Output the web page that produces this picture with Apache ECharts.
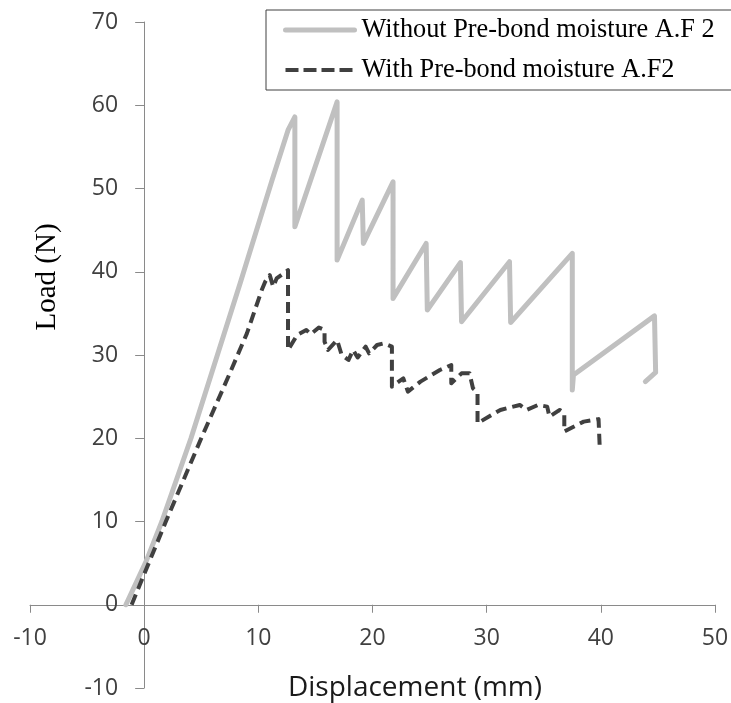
<!DOCTYPE html>
<html>
<head>
<meta charset="utf-8">
<script src="https://cdn.jsdelivr.net/npm/echarts@6/dist/echarts.min.js"></script>
<style>
html,body{margin:0;padding:0;background:#fff;}
#chart{width:731px;height:703px;}
</style>
</head>
<body>
<div id="chart"></div>
<script>
// Series names
var seriesNames = ["Without Pre-bond moisture A.F 2", "With Pre-bond moisture A.F2"];

// Without pre-bond moisture: displacement (mm) and load (N)
var dryDisp = [-1.6, 0.2, 1.55, 4.1, 8.4, 11.2, 12.6, 13.2, 13.2, 16.9, 16.9, 19.1, 19.2, 21.8, 21.8, 24.7, 24.8, 27.7, 27.8, 32.0, 32.1, 37.5, 37.5, 37.6, 44.7, 44.8, 43.9];
var dryLoad = [0, 5.3, 10, 20, 38.6, 51, 57, 58.6, 45.4, 60.4, 41.4, 48.6, 43.4, 50.8, 36.8, 43.4, 35.4, 41.1, 34.0, 41.2, 33.9, 42.2, 25.8, 27.6, 34.7, 27.9, 26.8];

// With pre-bond moisture
var wetDisp = [-1.1, 1.9, 5.0, 7.5, 9.0, 10.3, 10.6, 11.0, 11.3, 11.6, 12.6, 12.6, 13.4, 14.2, 14.6, 15.3, 15.8, 15.8, 16.1, 16.9, 17.3, 17.9, 18.3, 18.7, 19.4, 19.7, 20.4, 21.0, 21.7, 21.7, 22.7, 23.1, 24.2, 25.9, 26.9, 26.9, 27.8, 28.5, 28.8, 29.2, 29.2, 31.2, 32.9, 33.5, 34.5, 35.3, 35.5, 36.4, 36.8, 36.8, 38.5, 39.8, 39.9];
var wetLoad = [0, 10, 20, 27.8, 32.6, 37.8, 38.8, 39.6, 38.2, 39.2, 40.2, 30.6, 32.4, 33.0, 32.5, 33.3, 33.0, 31.6, 30.6, 31.8, 30.0, 29.4, 30.6, 29.7, 31.0, 30.2, 31.2, 31.4, 31.0, 26.2, 27.2, 25.6, 26.8, 28.2, 28.8, 26.6, 27.8, 27.8, 26.0, 25.5, 21.8, 23.4, 24.0, 23.4, 24.0, 23.8, 22.6, 23.4, 23.0, 20.8, 22.0, 22.3, 19.0];

// Axis ticks
var xTicks = [-10, 0, 10, 20, 30, 40, 50];
var yTicks = [-10, 0, 10, 20, 30, 40, 50, 60, 70];
var xTitle = "Displacement (mm)";
var yTitle = "Load (N)";

function zip(a, b) { return a.map(function (v, i) { return [v, b[i]]; }); }

var W = 731, H = 703;
var gLeft = 30, gRight = 16, gTop = 22, gBottom = 15;
var xMin = xTicks[0], xMax = xTicks[xTicks.length - 1];
var yMin = yTicks[0], yMax = yTicks[yTicks.length - 1];
// place axes at the zero crossing (axes offset inward from the grid edges)
var gW = W - gLeft - gRight, gH = H - gTop - gBottom;
var yAxisOffset = -gW * (0 - xMin) / (xMax - xMin);
var xAxisOffset = -gH * (0 - yMin) / (yMax - yMin);

var chart = echarts.init(document.getElementById('chart'), null, {renderer: 'canvas'});
var axisColor = '#8a8a8a';
var labelFont = '"Open Sans", "DejaVu Sans", sans-serif';
var serifFont = '"Liberation Serif", "Times New Roman", serif';
var dryStyle = {color: '#c0c0c0', width: 5, join: 'round', cap: 'round'};
var wetStyle = {color: '#404040', width: 4, type: [11, 6], join: 'round'};

chart.setOption({
  animation: false,
  backgroundColor: '#ffffff',
  grid: {left: gLeft, right: gRight, top: gTop, bottom: gBottom, containLabel: false, outerBoundsMode: 'none'},
  xAxis: {
    type: 'value', position: 'bottom', offset: xAxisOffset,
    min: xMin, max: xMax, interval: 10,
    axisLine: {show: true, onZero: false, lineStyle: {color: axisColor, width: 1}},
    axisTick: {show: true, length: 8, lineStyle: {color: axisColor}},
    axisLabel: {color: '#404040', fontSize: 23, fontFamily: labelFont, margin: 22, showMinLabel: true, showMaxLabel: true},
    splitLine: {show: false}
  },
  yAxis: {
    type: 'value', position: 'left', offset: yAxisOffset,
    min: yMin, max: yMax, interval: 10,
    axisLine: {show: true, onZero: false, lineStyle: {color: axisColor, width: 1}},
    axisTick: {show: true, length: 9, lineStyle: {color: axisColor}},
    axisLabel: {color: '#404040', fontSize: 23, fontFamily: labelFont, margin: 26, showMinLabel: true, showMaxLabel: true},
    splitLine: {show: false}
  },
  legend: {
    orient: 'vertical',
    left: 266, top: 10,
    padding: [5, 60, 5, 17],
    itemGap: 10,
    itemWidth: 69, itemHeight: 14,
    borderColor: '#404040', borderWidth: 1,
    backgroundColor: '#ffffff',
    itemStyle: {opacity: 0},
    textStyle: {fontFamily: serifFont, fontSize: 26.3, color: '#000', lineHeight: 30, padding: [0, 0, 0, 2]},
    data: [
      {name: seriesNames[0], lineStyle: {color: '#c0c0c0', width: 5, cap: 'round'}},
      {name: seriesNames[1], lineStyle: {color: '#404040', width: 4, type: [13, 5], dashOffset: 0}}
    ]
  },
  graphic: [
    {type: 'text', x: 415, y: 688,
     style: {text: xTitle, font: '28px "Open Sans", sans-serif', fill: '#1a1a1a', align: 'center', verticalAlign: 'middle'}},
    {type: 'text', x: 47, y: 277, rotation: Math.PI / 2,
     style: {text: yTitle, font: '29px "Liberation Serif", "Times New Roman", serif', fill: '#000', align: 'center', verticalAlign: 'middle'}}
  ],
  series: [
    {name: seriesNames[0], type: 'line', data: zip(dryDisp, dryLoad), showSymbol: false, symbol: 'none',
     lineStyle: dryStyle, itemStyle: {color: '#c0c0c0'}, z: 2},
    {name: seriesNames[1], type: 'line', data: zip(wetDisp, wetLoad), showSymbol: false, symbol: 'none',
     lineStyle: wetStyle, itemStyle: {color: '#404040'}, z: 3}
  ]
});
</script>
</body>
</html>
